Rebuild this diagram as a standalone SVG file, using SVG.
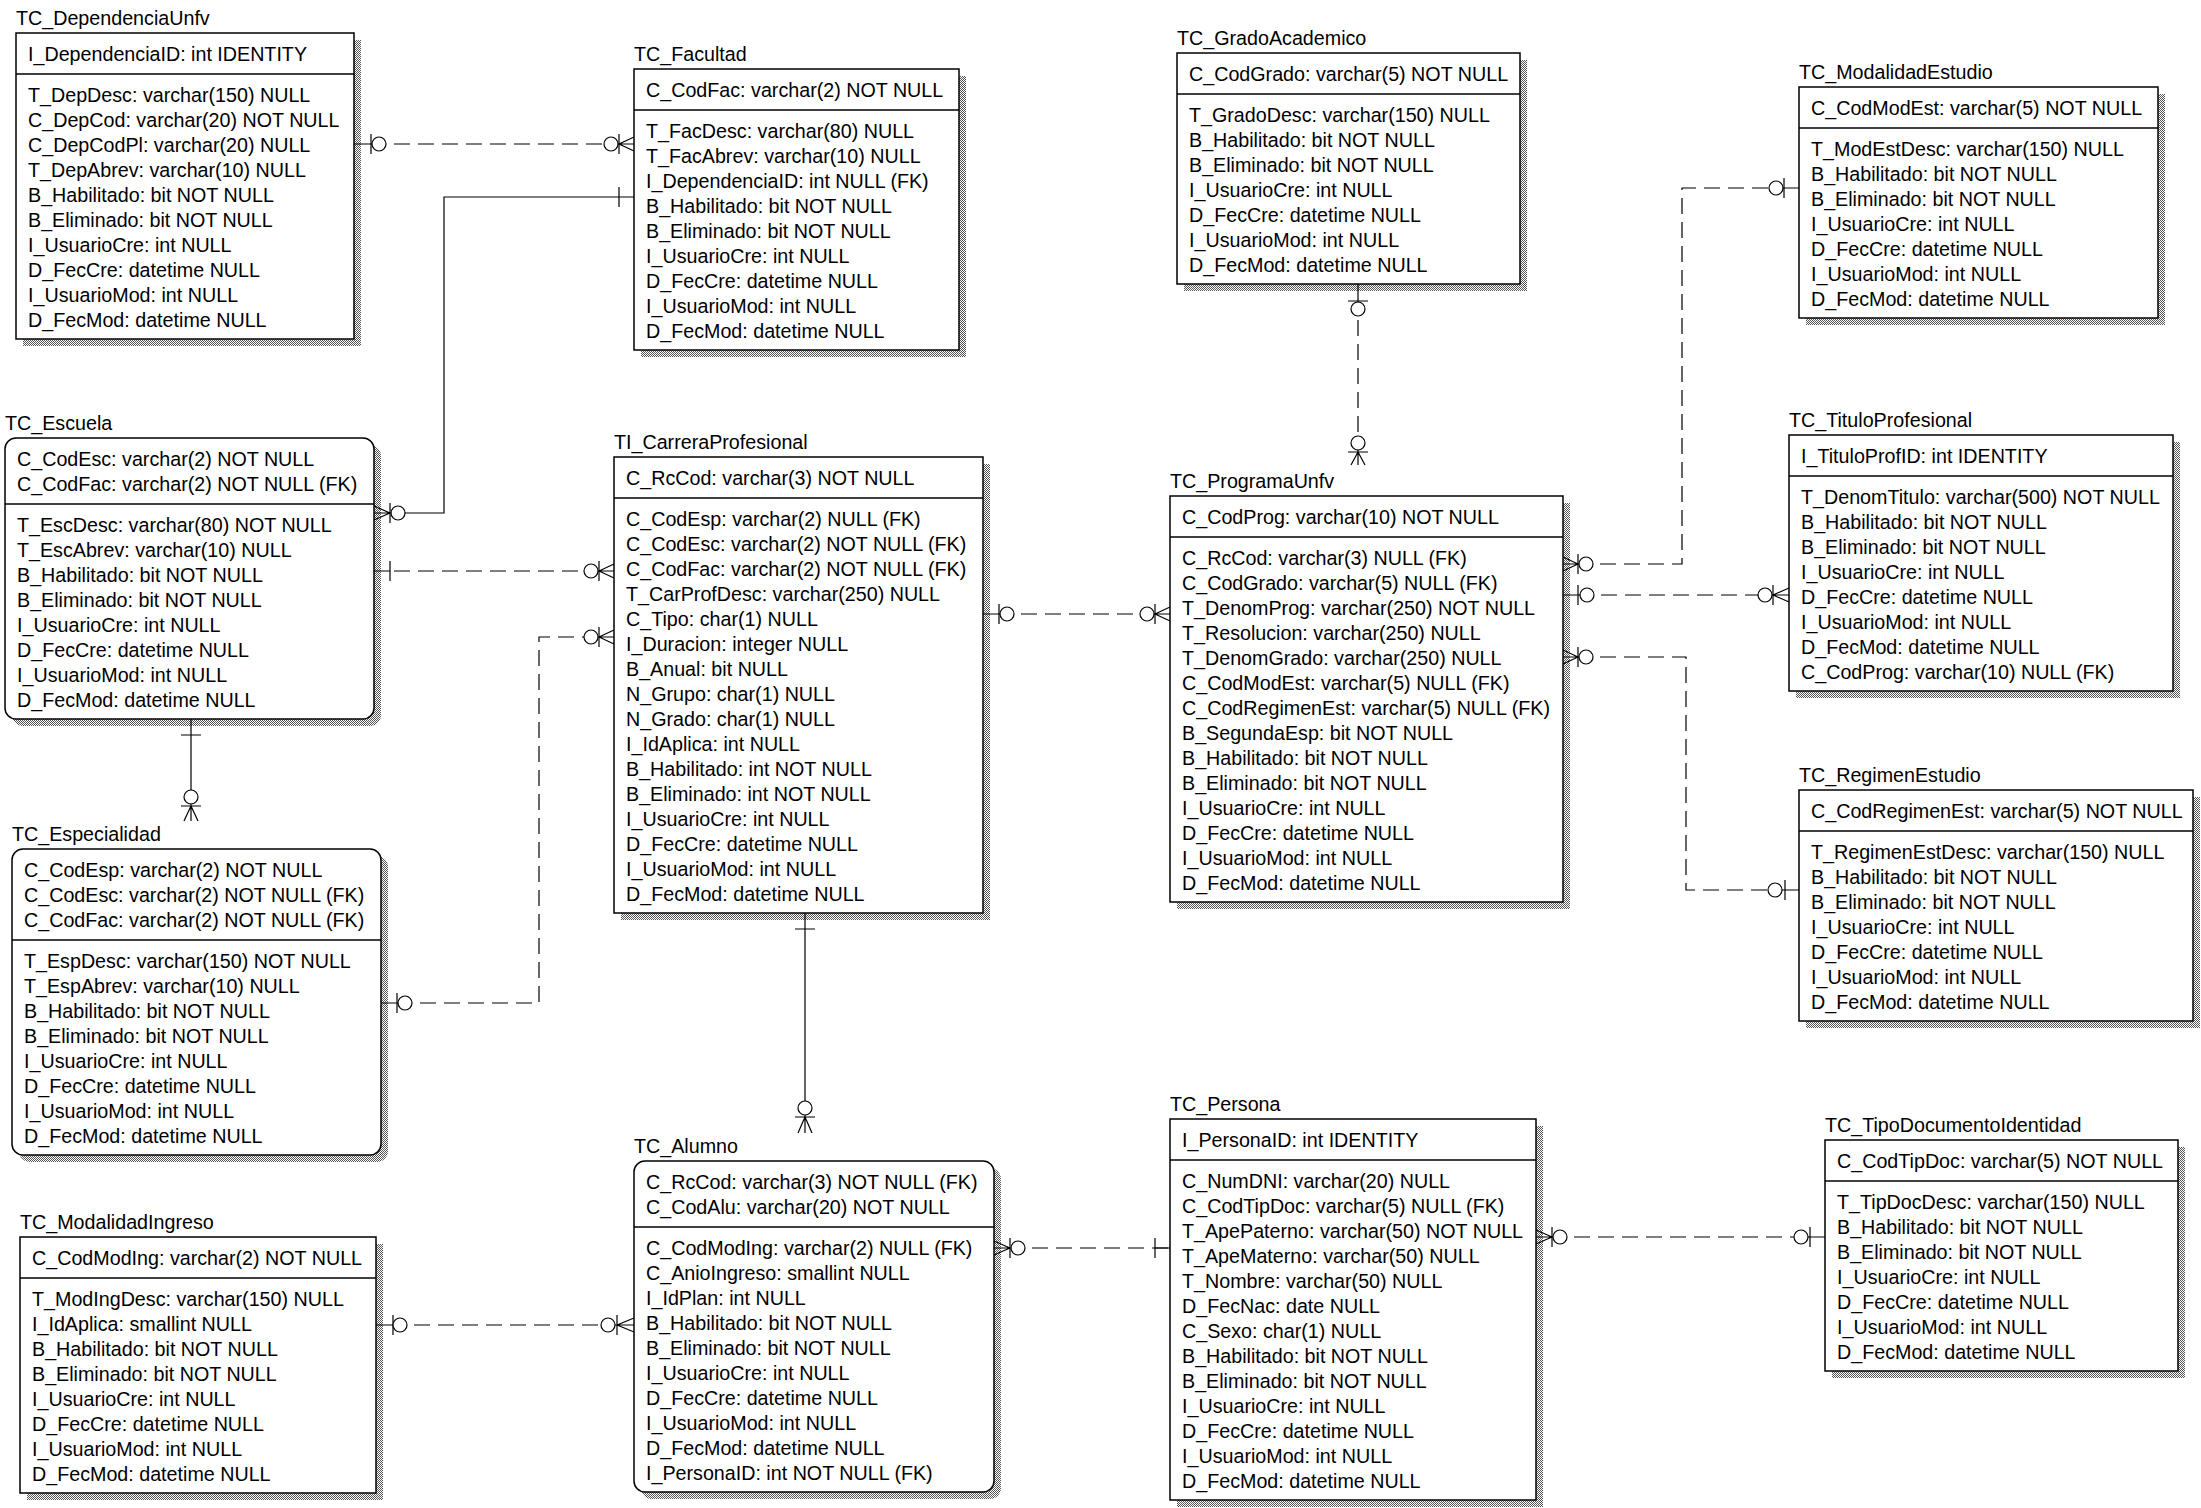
<svg xmlns="http://www.w3.org/2000/svg" width="2201" height="1508" viewBox="0 0 2201 1508">
<defs>
<pattern id="hatch" width="2" height="2" patternUnits="userSpaceOnUse"><rect width="2" height="2" fill="#ffffff"/><rect width="1" height="1" fill="#555555"/><rect x="1" y="1" width="1" height="1" fill="#555555"/></pattern>
<style>
.t{font-family:"Liberation Sans",Arial,sans-serif;font-size:19.7px;fill:#000}
.box{fill:#fff;stroke:#000;stroke-width:1.5}
.sh{fill:url(#hatch)}
.sep{stroke:#000;stroke-width:1.5}
.ln{fill:none;stroke:#000;stroke-width:1.2}
.dl{fill:none;stroke:#000;stroke-width:1.2;stroke-dasharray:16 8}
.cir{fill:#fff;stroke:#000;stroke-width:1.2}
</style>
</defs>
<rect x="0" y="0" width="2201" height="1508" fill="#fff"/>

<g id="TC_DependenciaUnfv">
<text class="t" x="16" y="25">TC_DependenciaUnfv</text>
<rect class="sh" x="23" y="40" width="338" height="306"/>
<rect class="box" x="16" y="33" width="338" height="306"/>
<line class="sep" x1="16" y1="74" x2="354" y2="74"/>
<text class="t" x="28" y="61">I_DependenciaID: int IDENTITY</text>
<text class="t" x="28" y="102"><tspan x="28" dy="0">T_DepDesc: varchar(150) NULL</tspan><tspan x="28" dy="25">C_DepCod: varchar(20) NOT NULL</tspan><tspan x="28" dy="25">C_DepCodPl: varchar(20) NULL</tspan><tspan x="28" dy="25">T_DepAbrev: varchar(10) NULL</tspan><tspan x="28" dy="25">B_Habilitado: bit NOT NULL</tspan><tspan x="28" dy="25">B_Eliminado: bit NOT NULL</tspan><tspan x="28" dy="25">I_UsuarioCre: int NULL</tspan><tspan x="28" dy="25">D_FecCre: datetime NULL</tspan><tspan x="28" dy="25">I_UsuarioMod: int NULL</tspan><tspan x="28" dy="25">D_FecMod: datetime NULL</tspan></text>
</g>

<g id="TC_Facultad">
<text class="t" x="634" y="61">TC_Facultad</text>
<rect class="sh" x="641" y="76" width="325" height="281"/>
<rect class="box" x="634" y="69" width="325" height="281"/>
<line class="sep" x1="634" y1="110" x2="959" y2="110"/>
<text class="t" x="646" y="97">C_CodFac: varchar(2) NOT NULL</text>
<text class="t" x="646" y="138"><tspan x="646" dy="0">T_FacDesc: varchar(80) NULL</tspan><tspan x="646" dy="25">T_FacAbrev: varchar(10) NULL</tspan><tspan x="646" dy="25">I_DependenciaID: int NULL (FK)</tspan><tspan x="646" dy="25">B_Habilitado: bit NOT NULL</tspan><tspan x="646" dy="25">B_Eliminado: bit NOT NULL</tspan><tspan x="646" dy="25">I_UsuarioCre: int NULL</tspan><tspan x="646" dy="25">D_FecCre: datetime NULL</tspan><tspan x="646" dy="25">I_UsuarioMod: int NULL</tspan><tspan x="646" dy="25">D_FecMod: datetime NULL</tspan></text>
</g>

<g id="TC_GradoAcademico">
<text class="t" x="1177" y="45">TC_GradoAcademico</text>
<rect class="sh" x="1184" y="60" width="343" height="231"/>
<rect class="box" x="1177" y="53" width="343" height="231"/>
<line class="sep" x1="1177" y1="94" x2="1520" y2="94"/>
<text class="t" x="1189" y="81">C_CodGrado: varchar(5) NOT NULL</text>
<text class="t" x="1189" y="122"><tspan x="1189" dy="0">T_GradoDesc: varchar(150) NULL</tspan><tspan x="1189" dy="25">B_Habilitado: bit NOT NULL</tspan><tspan x="1189" dy="25">B_Eliminado: bit NOT NULL</tspan><tspan x="1189" dy="25">I_UsuarioCre: int NULL</tspan><tspan x="1189" dy="25">D_FecCre: datetime NULL</tspan><tspan x="1189" dy="25">I_UsuarioMod: int NULL</tspan><tspan x="1189" dy="25">D_FecMod: datetime NULL</tspan></text>
</g>

<g id="TC_ModalidadEstudio">
<text class="t" x="1799" y="79">TC_ModalidadEstudio</text>
<rect class="sh" x="1806" y="94" width="359" height="231"/>
<rect class="box" x="1799" y="87" width="359" height="231"/>
<line class="sep" x1="1799" y1="128" x2="2158" y2="128"/>
<text class="t" x="1811" y="115">C_CodModEst: varchar(5) NOT NULL</text>
<text class="t" x="1811" y="156"><tspan x="1811" dy="0">T_ModEstDesc: varchar(150) NULL</tspan><tspan x="1811" dy="25">B_Habilitado: bit NOT NULL</tspan><tspan x="1811" dy="25">B_Eliminado: bit NOT NULL</tspan><tspan x="1811" dy="25">I_UsuarioCre: int NULL</tspan><tspan x="1811" dy="25">D_FecCre: datetime NULL</tspan><tspan x="1811" dy="25">I_UsuarioMod: int NULL</tspan><tspan x="1811" dy="25">D_FecMod: datetime NULL</tspan></text>
</g>

<g id="TC_Escuela">
<text class="t" x="5" y="430">TC_Escuela</text>
<rect class="sh" x="12" y="445" width="369" height="281" rx="11"/>
<rect class="box" x="5" y="438" width="369" height="281" rx="11"/>
<line class="sep" x1="5" y1="504" x2="374" y2="504"/>
<text class="t" x="17" y="466"><tspan x="17" dy="0">C_CodEsc: varchar(2) NOT NULL</tspan><tspan x="17" dy="25">C_CodFac: varchar(2) NOT NULL (FK)</tspan></text>
<text class="t" x="17" y="532"><tspan x="17" dy="0">T_EscDesc: varchar(80) NOT NULL</tspan><tspan x="17" dy="25">T_EscAbrev: varchar(10) NULL</tspan><tspan x="17" dy="25">B_Habilitado: bit NOT NULL</tspan><tspan x="17" dy="25">B_Eliminado: bit NOT NULL</tspan><tspan x="17" dy="25">I_UsuarioCre: int NULL</tspan><tspan x="17" dy="25">D_FecCre: datetime NULL</tspan><tspan x="17" dy="25">I_UsuarioMod: int NULL</tspan><tspan x="17" dy="25">D_FecMod: datetime NULL</tspan></text>
</g>

<g id="TI_CarreraProfesional">
<text class="t" x="614" y="449">TI_CarreraProfesional</text>
<rect class="sh" x="621" y="464" width="369" height="456"/>
<rect class="box" x="614" y="457" width="369" height="456"/>
<line class="sep" x1="614" y1="498" x2="983" y2="498"/>
<text class="t" x="626" y="485">C_RcCod: varchar(3) NOT NULL</text>
<text class="t" x="626" y="526"><tspan x="626" dy="0">C_CodEsp: varchar(2) NULL (FK)</tspan><tspan x="626" dy="25">C_CodEsc: varchar(2) NOT NULL (FK)</tspan><tspan x="626" dy="25">C_CodFac: varchar(2) NOT NULL (FK)</tspan><tspan x="626" dy="25">T_CarProfDesc: varchar(250) NULL</tspan><tspan x="626" dy="25">C_Tipo: char(1) NULL</tspan><tspan x="626" dy="25">I_Duracion: integer NULL</tspan><tspan x="626" dy="25">B_Anual: bit NULL</tspan><tspan x="626" dy="25">N_Grupo: char(1) NULL</tspan><tspan x="626" dy="25">N_Grado: char(1) NULL</tspan><tspan x="626" dy="25">I_IdAplica: int NULL</tspan><tspan x="626" dy="25">B_Habilitado: int NOT NULL</tspan><tspan x="626" dy="25">B_Eliminado: int NOT NULL</tspan><tspan x="626" dy="25">I_UsuarioCre: int NULL</tspan><tspan x="626" dy="25">D_FecCre: datetime NULL</tspan><tspan x="626" dy="25">I_UsuarioMod: int NULL</tspan><tspan x="626" dy="25">D_FecMod: datetime NULL</tspan></text>
</g>

<g id="TC_ProgramaUnfv">
<text class="t" x="1170" y="488">TC_ProgramaUnfv</text>
<rect class="sh" x="1177" y="503" width="393" height="406"/>
<rect class="box" x="1170" y="496" width="393" height="406"/>
<line class="sep" x1="1170" y1="537" x2="1563" y2="537"/>
<text class="t" x="1182" y="524">C_CodProg: varchar(10) NOT NULL</text>
<text class="t" x="1182" y="565"><tspan x="1182" dy="0">C_RcCod: varchar(3) NULL (FK)</tspan><tspan x="1182" dy="25">C_CodGrado: varchar(5) NULL (FK)</tspan><tspan x="1182" dy="25">T_DenomProg: varchar(250) NOT NULL</tspan><tspan x="1182" dy="25">T_Resolucion: varchar(250) NULL</tspan><tspan x="1182" dy="25">T_DenomGrado: varchar(250) NULL</tspan><tspan x="1182" dy="25">C_CodModEst: varchar(5) NULL (FK)</tspan><tspan x="1182" dy="25">C_CodRegimenEst: varchar(5) NULL (FK)</tspan><tspan x="1182" dy="25">B_SegundaEsp: bit NOT NULL</tspan><tspan x="1182" dy="25">B_Habilitado: bit NOT NULL</tspan><tspan x="1182" dy="25">B_Eliminado: bit NOT NULL</tspan><tspan x="1182" dy="25">I_UsuarioCre: int NULL</tspan><tspan x="1182" dy="25">D_FecCre: datetime NULL</tspan><tspan x="1182" dy="25">I_UsuarioMod: int NULL</tspan><tspan x="1182" dy="25">D_FecMod: datetime NULL</tspan></text>
</g>

<g id="TC_TituloProfesional">
<text class="t" x="1789" y="427">TC_TituloProfesional</text>
<rect class="sh" x="1796" y="442" width="384" height="256"/>
<rect class="box" x="1789" y="435" width="384" height="256"/>
<line class="sep" x1="1789" y1="476" x2="2173" y2="476"/>
<text class="t" x="1801" y="463">I_TituloProfID: int IDENTITY</text>
<text class="t" x="1801" y="504"><tspan x="1801" dy="0">T_DenomTitulo: varchar(500) NOT NULL</tspan><tspan x="1801" dy="25">B_Habilitado: bit NOT NULL</tspan><tspan x="1801" dy="25">B_Eliminado: bit NOT NULL</tspan><tspan x="1801" dy="25">I_UsuarioCre: int NULL</tspan><tspan x="1801" dy="25">D_FecCre: datetime NULL</tspan><tspan x="1801" dy="25">I_UsuarioMod: int NULL</tspan><tspan x="1801" dy="25">D_FecMod: datetime NULL</tspan><tspan x="1801" dy="25">C_CodProg: varchar(10) NULL (FK)</tspan></text>
</g>

<g id="TC_RegimenEstudio">
<text class="t" x="1799" y="782">TC_RegimenEstudio</text>
<rect class="sh" x="1806" y="797" width="394" height="231"/>
<rect class="box" x="1799" y="790" width="394" height="231"/>
<line class="sep" x1="1799" y1="831" x2="2193" y2="831"/>
<text class="t" x="1811" y="818">C_CodRegimenEst: varchar(5) NOT NULL</text>
<text class="t" x="1811" y="859"><tspan x="1811" dy="0">T_RegimenEstDesc: varchar(150) NULL</tspan><tspan x="1811" dy="25">B_Habilitado: bit NOT NULL</tspan><tspan x="1811" dy="25">B_Eliminado: bit NOT NULL</tspan><tspan x="1811" dy="25">I_UsuarioCre: int NULL</tspan><tspan x="1811" dy="25">D_FecCre: datetime NULL</tspan><tspan x="1811" dy="25">I_UsuarioMod: int NULL</tspan><tspan x="1811" dy="25">D_FecMod: datetime NULL</tspan></text>
</g>

<g id="TC_Especialidad">
<text class="t" x="12" y="841">TC_Especialidad</text>
<rect class="sh" x="19" y="856" width="369" height="306" rx="11"/>
<rect class="box" x="12" y="849" width="369" height="306" rx="11"/>
<line class="sep" x1="12" y1="940" x2="381" y2="940"/>
<text class="t" x="24" y="877"><tspan x="24" dy="0">C_CodEsp: varchar(2) NOT NULL</tspan><tspan x="24" dy="25">C_CodEsc: varchar(2) NOT NULL (FK)</tspan><tspan x="24" dy="25">C_CodFac: varchar(2) NOT NULL (FK)</tspan></text>
<text class="t" x="24" y="968"><tspan x="24" dy="0">T_EspDesc: varchar(150) NOT NULL</tspan><tspan x="24" dy="25">T_EspAbrev: varchar(10) NULL</tspan><tspan x="24" dy="25">B_Habilitado: bit NOT NULL</tspan><tspan x="24" dy="25">B_Eliminado: bit NOT NULL</tspan><tspan x="24" dy="25">I_UsuarioCre: int NULL</tspan><tspan x="24" dy="25">D_FecCre: datetime NULL</tspan><tspan x="24" dy="25">I_UsuarioMod: int NULL</tspan><tspan x="24" dy="25">D_FecMod: datetime NULL</tspan></text>
</g>

<g id="TC_ModalidadIngreso">
<text class="t" x="20" y="1229">TC_ModalidadIngreso</text>
<rect class="sh" x="27" y="1244" width="356" height="256"/>
<rect class="box" x="20" y="1237" width="356" height="256"/>
<line class="sep" x1="20" y1="1278" x2="376" y2="1278"/>
<text class="t" x="32" y="1265">C_CodModIng: varchar(2) NOT NULL</text>
<text class="t" x="32" y="1306"><tspan x="32" dy="0">T_ModIngDesc: varchar(150) NULL</tspan><tspan x="32" dy="25">I_IdAplica: smallint NULL</tspan><tspan x="32" dy="25">B_Habilitado: bit NOT NULL</tspan><tspan x="32" dy="25">B_Eliminado: bit NOT NULL</tspan><tspan x="32" dy="25">I_UsuarioCre: int NULL</tspan><tspan x="32" dy="25">D_FecCre: datetime NULL</tspan><tspan x="32" dy="25">I_UsuarioMod: int NULL</tspan><tspan x="32" dy="25">D_FecMod: datetime NULL</tspan></text>
</g>

<g id="TC_Alumno">
<text class="t" x="634" y="1153">TC_Alumno</text>
<rect class="sh" x="641" y="1168" width="360" height="331" rx="11"/>
<rect class="box" x="634" y="1161" width="360" height="331" rx="11"/>
<line class="sep" x1="634" y1="1227" x2="994" y2="1227"/>
<text class="t" x="646" y="1189"><tspan x="646" dy="0">C_RcCod: varchar(3) NOT NULL (FK)</tspan><tspan x="646" dy="25">C_CodAlu: varchar(20) NOT NULL</tspan></text>
<text class="t" x="646" y="1255"><tspan x="646" dy="0">C_CodModIng: varchar(2) NULL (FK)</tspan><tspan x="646" dy="25">C_AnioIngreso: smallint NULL</tspan><tspan x="646" dy="25">I_IdPlan: int NULL</tspan><tspan x="646" dy="25">B_Habilitado: bit NOT NULL</tspan><tspan x="646" dy="25">B_Eliminado: bit NOT NULL</tspan><tspan x="646" dy="25">I_UsuarioCre: int NULL</tspan><tspan x="646" dy="25">D_FecCre: datetime NULL</tspan><tspan x="646" dy="25">I_UsuarioMod: int NULL</tspan><tspan x="646" dy="25">D_FecMod: datetime NULL</tspan><tspan x="646" dy="25">I_PersonaID: int NOT NULL (FK)</tspan></text>
</g>

<g id="TC_Persona">
<text class="t" x="1170" y="1111">TC_Persona</text>
<rect class="sh" x="1177" y="1126" width="366" height="381"/>
<rect class="box" x="1170" y="1119" width="366" height="381"/>
<line class="sep" x1="1170" y1="1160" x2="1536" y2="1160"/>
<text class="t" x="1182" y="1147">I_PersonaID: int IDENTITY</text>
<text class="t" x="1182" y="1188"><tspan x="1182" dy="0">C_NumDNI: varchar(20) NULL</tspan><tspan x="1182" dy="25">C_CodTipDoc: varchar(5) NULL (FK)</tspan><tspan x="1182" dy="25">T_ApePaterno: varchar(50) NOT NULL</tspan><tspan x="1182" dy="25">T_ApeMaterno: varchar(50) NULL</tspan><tspan x="1182" dy="25">T_Nombre: varchar(50) NULL</tspan><tspan x="1182" dy="25">D_FecNac: date NULL</tspan><tspan x="1182" dy="25">C_Sexo: char(1) NULL</tspan><tspan x="1182" dy="25">B_Habilitado: bit NOT NULL</tspan><tspan x="1182" dy="25">B_Eliminado: bit NOT NULL</tspan><tspan x="1182" dy="25">I_UsuarioCre: int NULL</tspan><tspan x="1182" dy="25">D_FecCre: datetime NULL</tspan><tspan x="1182" dy="25">I_UsuarioMod: int NULL</tspan><tspan x="1182" dy="25">D_FecMod: datetime NULL</tspan></text>
</g>

<g id="TC_TipoDocumentoIdentidad">
<text class="t" x="1825" y="1132">TC_TipoDocumentoIdentidad</text>
<rect class="sh" x="1832" y="1147" width="353" height="231"/>
<rect class="box" x="1825" y="1140" width="353" height="231"/>
<line class="sep" x1="1825" y1="1181" x2="2178" y2="1181"/>
<text class="t" x="1837" y="1168">C_CodTipDoc: varchar(5) NOT NULL</text>
<text class="t" x="1837" y="1209"><tspan x="1837" dy="0">T_TipDocDesc: varchar(150) NULL</tspan><tspan x="1837" dy="25">B_Habilitado: bit NOT NULL</tspan><tspan x="1837" dy="25">B_Eliminado: bit NOT NULL</tspan><tspan x="1837" dy="25">I_UsuarioCre: int NULL</tspan><tspan x="1837" dy="25">D_FecCre: datetime NULL</tspan><tspan x="1837" dy="25">I_UsuarioMod: int NULL</tspan><tspan x="1837" dy="25">D_FecMod: datetime NULL</tspan></text>
</g>

<g id="connectors">
<!-- C1 Dependencia - Facultad -->
<path class="dl" d="M394,144 H604"/>
<path class="ln" d="M354,144 H379 M611,144 H634 M371,134 V154 M619,134 V154 M619,144 L634,137 M619,144 L634,151"/>
<circle class="cir" cx="379" cy="144" r="7"/>
<circle class="cir" cx="611" cy="144" r="7"/>
<!-- C2 Facultad - Escuela (solid) -->
<path class="ln" d="M634,197 H444 V513 H374 M619,187 V207 M390,503 V523 M390,513 L374,506 M390,513 L374,520"/>
<circle class="cir" cx="398" cy="513" r="7"/>
<!-- C3 Escuela - Carrera -->
<path class="dl" d="M394,571 H584"/>
<path class="ln" d="M374,571 H390 M591,571 H614 M390,561 V581 M599,561 V581 M599,571 L614,564 M599,571 L614,578"/>
<circle class="cir" cx="591" cy="571" r="7"/>
<!-- C4 Especialidad - Carrera -->
<path class="dl" d="M420,1003 H539 V637 H584"/>
<path class="ln" d="M381,1003 H405 M591,637 H614 M397,993 V1013 M599,627 V647 M599,637 L614,630 M599,637 L614,644"/>
<circle class="cir" cx="405" cy="1003" r="7"/>
<circle class="cir" cx="591" cy="637" r="7"/>
<!-- C5 Escuela - Especialidad (solid) -->
<path class="ln" d="M191,719 V821 M181,735 H201 M181,806 H201 M191,806 L184,821 M191,806 L198,821"/>
<circle class="cir" cx="191" cy="797" r="7"/>
<!-- C6 Grado - Programa -->
<path class="dl" d="M1358,320 V436"/>
<path class="ln" d="M1358,284 V309 M1358,443 V465 M1348,301 H1368 M1348,452 H1368 M1358,452 L1351,465 M1358,452 L1365,465"/>
<circle class="cir" cx="1358" cy="309" r="7"/>
<circle class="cir" cx="1358" cy="443" r="7"/>
<!-- C7 Programa - ModalidadEstudio -->
<path class="dl" d="M1600,564 H1682 V188 H1769"/>
<path class="ln" d="M1563,564 H1586 M1776,188 H1799 M1578,554 V574 M1578,564 L1563,557 M1578,564 L1563,571 M1784,178 V198"/>
<circle class="cir" cx="1586" cy="564" r="7"/>
<circle class="cir" cx="1776" cy="188" r="7"/>
<!-- C8 Programa - Titulo -->
<path class="dl" d="M1601,595 H1758"/>
<path class="ln" d="M1563,595 H1587 M1765,595 H1789 M1578,585 V605 M1773,585 V605 M1773,595 L1789,588 M1773,595 L1789,602"/>
<circle class="cir" cx="1587" cy="595" r="7"/>
<circle class="cir" cx="1765" cy="595" r="7"/>
<!-- C9 Programa - Regimen -->
<path class="dl" d="M1600,657 H1686 V890 H1768"/>
<path class="ln" d="M1563,657 H1586 M1775,890 H1799 M1578,647 V667 M1578,657 L1563,650 M1578,657 L1563,664 M1785,880 V900"/>
<circle class="cir" cx="1586" cy="657" r="7"/>
<circle class="cir" cx="1775" cy="890" r="7"/>
<!-- C10 Carrera - Programa -->
<path class="dl" d="M1021,614 H1140"/>
<path class="ln" d="M983,614 H1007 M1147,614 H1170 M999,604 V624 M1155,604 V624 M1155,614 L1170,607 M1155,614 L1170,621"/>
<circle class="cir" cx="1007" cy="614" r="7"/>
<circle class="cir" cx="1147" cy="614" r="7"/>
<!-- C11 Carrera - Alumno (solid) -->
<path class="ln" d="M805,913 V1133 M795,929 H815 M795,1117 H815 M805,1117 L798,1133 M805,1117 L812,1133"/>
<circle class="cir" cx="805" cy="1108" r="7"/>
<!-- C12 ModalidadIngreso - Alumno -->
<path class="dl" d="M414,1325 H601"/>
<path class="ln" d="M376,1325 H400 M608,1325 H634 M393,1315 V1335 M617,1315 V1335 M617,1325 L634,1318 M617,1325 L634,1332"/>
<circle class="cir" cx="400" cy="1325" r="7"/>
<circle class="cir" cx="608" cy="1325" r="7"/>
<!-- C13 Alumno - Persona -->
<path class="dl" d="M1032,1248 H1170"/>
<path class="ln" d="M994,1248 H1018 M1155,1248 H1170 M1010,1238 V1258 M1010,1248 L994,1241 M1010,1248 L994,1255 M1155,1238 V1258"/>
<circle class="cir" cx="1018" cy="1248" r="7"/>
<!-- C14 Persona - TipoDocumento -->
<path class="dl" d="M1574,1237 H1794"/>
<path class="ln" d="M1536,1237 H1560 M1801,1237 H1825 M1552,1227 V1247 M1552,1237 L1536,1230 M1552,1237 L1536,1244 M1810,1227 V1247"/>
<circle class="cir" cx="1560" cy="1237" r="7"/>
<circle class="cir" cx="1801" cy="1237" r="7"/>
</g>
</svg>
